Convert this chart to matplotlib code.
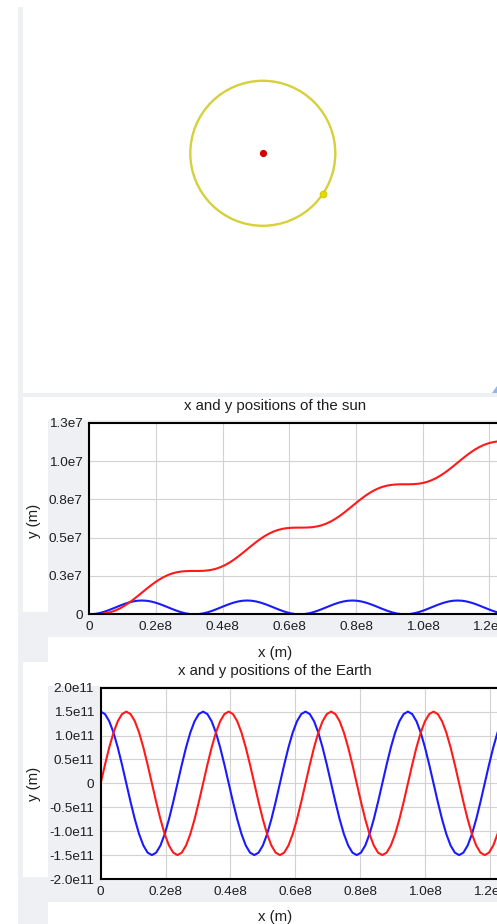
import matplotlib
matplotlib.use("Agg")
import matplotlib.pyplot as plt
from matplotlib.patches import Rectangle, Polygon, Circle

W, H, DPI = 497, 924, 100

# --- data -------------------------------------------------------------------
# sample times, in 1e6 s
t_samples = [
    0.0, 1.315, 2.63, 3.945, 5.26, 6.575, 7.89, 9.205, 10.52, 11.835, 13.15, 14.465,
    15.78, 17.095, 18.41, 19.725, 21.04, 22.355, 23.67, 24.985, 26.3, 27.615, 28.93, 30.245,
    31.56, 32.875, 34.19, 35.505, 36.82, 38.135, 39.45, 40.765, 42.08, 43.395, 44.71, 46.025,
    47.34, 48.655, 49.97, 51.285, 52.6, 53.915, 55.23, 56.545, 57.86, 59.175, 60.49, 61.805,
    63.12, 64.435, 65.75, 67.065, 68.38, 69.695, 71.01, 72.325, 73.64, 74.955, 76.27, 77.585,
    78.9, 80.215, 81.53, 82.845, 84.16, 85.475, 86.79, 88.105, 89.42, 90.735, 92.05, 93.365,
    94.68, 95.995, 97.31, 98.625, 99.94, 101.255, 102.57, 103.885, 105.2, 106.515, 107.83, 109.145,
    110.46, 111.775, 113.09, 114.405, 115.72, 117.035, 118.35, 119.665, 120.98, 122.295, 123.61, 124.925,
    126.24,
]

# sun position, in 1e6 m
sun_x = [
    0.0, 0.015, 0.06, 0.132, 0.225, 0.334, 0.45, 0.566, 0.675, 0.768, 0.84, 0.885,
    0.9, 0.885, 0.84, 0.768, 0.675, 0.566, 0.45, 0.334, 0.225, 0.132, 0.06, 0.015,
    0.0, 0.015, 0.06, 0.132, 0.225, 0.334, 0.45, 0.566, 0.675, 0.768, 0.84, 0.885,
    0.9, 0.885, 0.84, 0.768, 0.675, 0.566, 0.45, 0.334, 0.225, 0.132, 0.06, 0.015,
    0.0, 0.015, 0.06, 0.132, 0.225, 0.334, 0.45, 0.566, 0.675, 0.768, 0.84, 0.885,
    0.9, 0.885, 0.84, 0.768, 0.675, 0.566, 0.45, 0.334, 0.225, 0.132, 0.06, 0.015,
    0.0, 0.015, 0.06, 0.132, 0.225, 0.334, 0.45, 0.566, 0.675, 0.768, 0.84, 0.885,
    0.9, 0.885, 0.84, 0.768, 0.675, 0.566, 0.45, 0.334, 0.225, 0.132, 0.06, 0.015,
    0.0,
]
sun_y = [
    0.0, 0.001, 0.011, 0.035, 0.082, 0.154, 0.257, 0.39, 0.553, 0.742, 0.953, 1.18,
    1.414, 1.648, 1.874, 2.085, 2.275, 2.437, 2.571, 2.673, 2.746, 2.792, 2.817, 2.826,
    2.827, 2.828, 2.838, 2.862, 2.909, 2.981, 3.084, 3.217, 3.38, 3.569, 3.78, 4.007,
    4.241, 4.475, 4.701, 4.912, 5.102, 5.264, 5.398, 5.5, 5.573, 5.619, 5.644, 5.653,
    5.655, 5.656, 5.666, 5.69, 5.737, 5.809, 5.912, 6.045, 6.208, 6.397, 6.608, 6.835,
    7.069, 7.303, 7.529, 7.74, 7.93, 8.092, 8.226, 8.328, 8.401, 8.447, 8.472, 8.481,
    8.482, 8.483, 8.493, 8.517, 8.564, 8.636, 8.739, 8.872, 9.035, 9.224, 9.435, 9.662,
    9.896, 10.13, 10.356, 10.567, 10.757, 10.919, 11.053, 11.155, 11.228, 11.274, 11.299, 11.308,
    11.31,
]

# earth position, in 1e11 m
earth_x = [
    1.5, 1.449, 1.299, 1.061, 0.75, 0.388, 0.0, -0.388, -0.75, -1.061, -1.299, -1.449,
    -1.5, -1.449, -1.299, -1.061, -0.75, -0.388, 0.0, 0.388, 0.75, 1.061, 1.299, 1.449,
    1.5, 1.449, 1.299, 1.061, 0.75, 0.388, 0.0, -0.388, -0.75, -1.061, -1.299, -1.449,
    -1.5, -1.449, -1.299, -1.061, -0.75, -0.388, 0.0, 0.388, 0.75, 1.061, 1.299, 1.449,
    1.5, 1.449, 1.299, 1.061, 0.75, 0.388, 0.0, -0.388, -0.75, -1.061, -1.299, -1.449,
    -1.5, -1.449, -1.299, -1.061, -0.75, -0.388, 0.0, 0.388, 0.75, 1.061, 1.299, 1.449,
    1.5, 1.449, 1.299, 1.061, 0.75, 0.388, 0.0, -0.388, -0.75, -1.061, -1.299, -1.449,
    -1.5, -1.449, -1.299, -1.061, -0.75, -0.388, 0.0, 0.388, 0.75, 1.061, 1.299, 1.449,
    1.5,
]
earth_y = [
    0.0, 0.388, 0.75, 1.061, 1.299, 1.449, 1.5, 1.449, 1.299, 1.061, 0.75, 0.388,
    0.0, -0.388, -0.75, -1.061, -1.299, -1.449, -1.5, -1.449, -1.299, -1.061, -0.75, -0.388,
    0.0, 0.388, 0.75, 1.061, 1.299, 1.449, 1.5, 1.449, 1.299, 1.061, 0.75, 0.388,
    0.0, -0.388, -0.75, -1.061, -1.299, -1.449, -1.5, -1.449, -1.299, -1.061, -0.75, -0.388,
    0.0, 0.388, 0.75, 1.061, 1.299, 1.449, 1.5, 1.449, 1.299, 1.061, 0.75, 0.388,
    0.0, -0.388, -0.75, -1.061, -1.299, -1.449, -1.5, -1.449, -1.299, -1.061, -0.75, -0.388,
    0.0, 0.388, 0.75, 1.061, 1.299, 1.449, 1.5, 1.449, 1.299, 1.061, 0.75, 0.388,
    0.0, -0.388, -0.75, -1.061, -1.299, -1.449, -1.5, -1.449, -1.299, -1.061, -0.75, -0.388,
    0.0,
]

# scene snapshot (1e11 m)
sun_now = (0.0, 0.0)
earth_now = (1.239, -0.842)
orbit_radius = 1.5

x_ticks = [0, 20, 40, 60, 80, 100, 120]
x_tick_labels = ["0", "0.2e8", "0.4e8", "0.6e8", "0.8e8", "1.0e8", "1.2e8"]
sun_y_ticks = [0, 2.5, 5, 7.5, 10, 12.5]
sun_y_tick_labels = ["0", "0.3e7", "0.5e7", "0.8e7", "1.0e7", "1.3e7"]
earth_y_ticks = [-2, -1.5, -1, -0.5, 0, 0.5, 1, 1.5, 2]
earth_y_tick_labels = ["-2.0e11", "-1.5e11", "-1.0e11", "-0.5e11", "0",
                       "0.5e11", "1.0e11", "1.5e11", "2.0e11"]

GRAY = "#eef0f3"
GRID = "#d2d2d2"
TXT = "#1e1e1e"
RED = "#ff1a1a"
BLUE = "#1a1aff"

plt.rcParams["font.family"] = ["Liberation Sans", "DejaVu Sans"]

fig = plt.figure(figsize=(W / DPI, H / DPI), dpi=DPI, facecolor="white")


def frac(x0, y0, x1, y1):
    # pixel box (top-left origin) -> figure fraction rect
    return [x0 / W, 1 - y1 / H, (x1 - x0) / W, (y1 - y0) / H]


def block(x0, y0, x1, y1, color):
    l, b, w, h = frac(x0, y0, x1, y1)
    fig.add_artist(Rectangle((l, b), w, h, transform=fig.transFigure,
                             facecolor=color, edgecolor="none", zorder=-10))


def ftext(x, y, s, **kw):
    fig.text(x / W, 1 - y / H, s, ha="center", va="center", color=TXT, **kw)


# page chrome
block(18, 7, 23, H, GRAY)
block(18, 393, W, 397, GRAY)
block(18, 612, 48, 662, GRAY)
block(18, 877, 48, H, GRAY)
block(48, 420, W, 637, GRAY)
block(48, 686, W, 902, GRAY)
fig.add_artist(Polygon([[491.5 / W, 1 - 393 / H], [W / W, 1 - 393 / H], [W / W, 1 - 386 / H]],
                       closed=True, transform=fig.transFigure, facecolor="#8fb8e3",
                       edgecolor="none", zorder=-5))

# --- scene: orbit of the earth around the sun
ax0 = fig.add_axes(frac(23, 7, 497, 393))
ax0.set_xlim(-4.962, 4.846)
ax0.set_ylim(-4.960, 3.027)
ax0.axis("off")
ax0.add_patch(Circle(sun_now, orbit_radius, fill=False, edgecolor="#d6d03a", lw=1.7))
ax0.plot(*sun_now, "o", ms=5.2, color="#d60000", mec="none")
ax0.plot(*earth_now, "o", ms=5.0, color="#e2da00", mec="#c8c000", mew=0.5)


def style_axes(ax, yticks, ylabels):
    ax.set_facecolor("white")
    ax.set_xticks(x_ticks)
    ax.set_xticklabels(x_tick_labels)
    ax.set_yticks(yticks)
    ax.set_yticklabels(ylabels)
    ax.tick_params(length=0, labelsize=9.7, labelcolor=TXT)
    ax.tick_params(axis="x", pad=5.0)
    ax.tick_params(axis="y", pad=4.8)
    ax.grid(True, color=GRID, lw=0.8)
    ax.set_axisbelow(True)
    for side in ("left", "top", "bottom"):
        ax.spines[side].set_color("black")
        ax.spines[side].set_linewidth(1.5)
    ax.spines["right"].set_visible(False)


# --- x and y positions of the sun
ax1 = fig.add_axes(frac(89.3, 422.7, 512.8, 614.3))
ax1.plot(t_samples, sun_x, color=BLUE, lw=1.5)
ax1.plot(t_samples, sun_y, color=RED, lw=1.5)
ax1.set_xlim(0, 127)
ax1.set_ylim(0, 12.5)
style_axes(ax1, sun_y_ticks, sun_y_tick_labels)

ftext(275, 406, "x and y positions of the sun", fontsize=10.8)
ftext(275, 652.5, "x (m)", fontsize=10.8)
ftext(34, 521, "y (m)", fontsize=10.8, rotation=90)

# --- x and y positions of the Earth
ax2 = fig.add_axes(frac(100.7, 687.7, 512.8, 879))
ax2.plot(t_samples, earth_x, color=BLUE, lw=1.5)
ax2.plot(t_samples, earth_y, color=RED, lw=1.5)
ax2.set_xlim(0, 127)
ax2.set_ylim(-2, 2)
style_axes(ax2, earth_y_ticks, earth_y_tick_labels)

ftext(275, 671, "x and y positions of the Earth", fontsize=10.8)
ftext(275, 916.5, "x (m)", fontsize=10.8)
ftext(34, 784, "y (m)", fontsize=10.8, rotation=90)

fig.savefig("out.png", dpi=DPI, facecolor="white")
